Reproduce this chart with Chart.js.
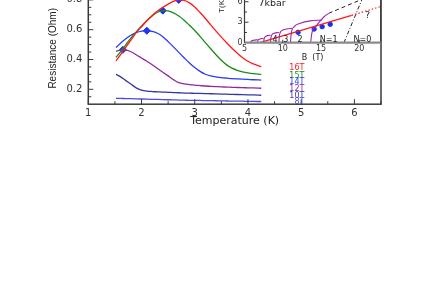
<!DOCTYPE html>
<html>
<head>
<meta charset="utf-8">
<script src="https://cdn.jsdelivr.net/npm/chart.js@4/dist/chart.umd.min.js"></script>
<style>
html,body{margin:0;padding:0;background:#fff;overflow:hidden}
#wrap{position:relative;width:421px;height:287px;overflow:hidden;background:#fff}
#main{position:absolute;left:0;top:-30px}
#inset{position:absolute;left:200px;top:-20px}
</style>
</head>
<body>
<div id="wrap">
<canvas id="main" width="421" height="170"></canvas>
<canvas id="inset" width="200" height="90"></canvas>
</div>
<script>
// temperature grid (K) shared by all R(T) curves
const temps = [1.52,1.6,1.7,1.8,1.9,2.0,2.1,2.2,2.3,2.4,2.5,2.6,2.7,2.8,2.9,3.0,3.1,3.2,3.3,3.4,3.5,3.6,3.7,3.8,3.9,4.0,4.1,4.25];
// resistance (Ohm) for each field
const r16 = [0.39,0.43,0.48,0.53,0.58,0.62,0.66,0.695,0.725,0.75,0.772,0.79,0.80,0.797,0.78,0.752,0.715,0.675,0.632,0.59,0.55,0.512,0.475,0.442,0.412,0.388,0.37,0.352];
const r15 = [0.415,0.45,0.497,0.543,0.585,0.625,0.66,0.692,0.717,0.728,0.726,0.713,0.692,0.664,0.63,0.595,0.555,0.513,0.472,0.432,0.395,0.364,0.342,0.327,0.317,0.31,0.305,0.30];
const r14 = [0.48,0.508,0.538,0.563,0.58,0.59,0.593,0.589,0.576,0.553,0.52,0.485,0.448,0.412,0.377,0.346,0.32,0.301,0.29,0.283,0.278,0.275,0.272,0.27,0.268,0.266,0.264,0.262];
const r12 = [0.455,0.463,0.463,0.452,0.432,0.41,0.388,0.365,0.34,0.315,0.29,0.265,0.245,0.237,0.232,0.228,0.225,0.222,0.22,0.218,0.216,0.215,0.213,0.212,0.211,0.21,0.209,0.207];
const r10 = [0.30,0.285,0.26,0.235,0.21,0.195,0.188,0.185,0.183,0.181,0.18,0.178,0.177,0.175,0.174,0.173,0.172,0.171,0.17,0.169,0.168,0.167,0.166,0.165,0.164,0.163,0.162,0.16];
const r8  = [0.14,0.139,0.138,0.137,0.136,0.135,0.134,0.133,0.132,0.131,0.13,0.129,0.128,0.127,0.126,0.1255,0.125,0.124,0.1235,0.123,0.122,0.1215,0.121,0.1205,0.12,0.119,0.1185,0.118];
const fieldLabels = ['16T','15T','14T','12T','10T','8T'];
// maxima marked on the curves
const peakT = [1.65,2.1,2.4,2.7];
const peakR = [0.465,0.593,0.728,0.80];

// inset: T(K) vs B(T), 7 kbar
const arcs = [
  {b:[5.8,5.9,6.2,6.7], t:[0,0.25,0.35,0.45]},
  {b:[6.7,6.75,6.95,7.5], t:[0,0.3,0.5,0.65]},
  {b:[7.5,7.55,7.8,8.4], t:[0,0.5,0.95,1.1]},
  {b:[8.4,8.45,8.7,9.5], t:[0,0.7,1.3,1.5]},
  {b:[9.5,9.55,9.9,10.5,11.2], t:[0,1.0,1.8,2.0,2.1]},
  {b:[11.0,11.1,11.5,12.3,13.6,15.1], t:[0,1.3,2.35,2.85,3.2,3.3]},
  {b:[13.65,13.8,14.3,14.9,15.4,16.0], t:[0,1.4,2.35,3.2,3.8,4.3]}
];
const redLineB = [7.0,19.0];
const redLineT = [0,4.0];
const redDotB = [19.0,22.8];
const redDotT = [4.0,5.3];
const dashB = [16.0,21.7];
const dashT = [4.3,7.0];
const dashDotB = [18.0,20.6];
const dashDotT = [0,7.0];
const dotB = [12.0,14.1,15.15,16.2];
const dotT = [1.52,2.0,2.35,2.7];
const insetLabels = ['4','3','2','N=1','N=0'];
const insetLabelB = [9.0,10.4,12.25,16.0,20.4];

const colors = ['#ff1a1a','#1b8c1b','#2a3cf0','#8e2a9e','#3535a5','#4a4ae8'];
const series = [r16,r15,r14,r12,r10,r8];

Chart.defaults.font.family = '"DejaVu Sans", sans-serif';
Chart.defaults.color = '#222';

const pts = (xs, ys) => xs.map((v, i) => ({x: v, y: ys[i]}));

const mainDeco = {
  id: 'mainDeco',
  afterDraw(chart) {
    const {ctx, chartArea: a, scales: {x, y}} = chart;
    ctx.save();
    ctx.strokeStyle = '#3a3a3a';
    ctx.lineWidth = 1.5;
    ctx.strokeRect(a.left, a.top, a.right - a.left, a.bottom - a.top);
    ctx.lineWidth = 1;
    ctx.beginPath();
    for (let i = 2; i <= 13; i++) {
      const px = x.getPixelForValue(i * 0.5);
      const len = i % 2 === 0 ? 5 : 3;
      ctx.moveTo(px, a.bottom); ctx.lineTo(px, a.bottom - len);
    }
    for (let i = 3; i <= 16; i++) {
      const py = y.getPixelForValue(i * 0.05);
      const len = i % 4 === 0 ? 5 : 3;
      ctx.moveTo(a.left, py); ctx.lineTo(a.left + len, py);
    }
    ctx.stroke();
    // field labels
    const labR = [0.341,0.291,0.247,0.2,0.157,0.117];
    ctx.font = '8px "DejaVu Sans"';
    ctx.textAlign = 'right';
    ctx.textBaseline = 'middle';
    fieldLabels.forEach((s, i) => {
      ctx.fillStyle = colors[i];
      ctx.fillText(s, x.getPixelForValue(5.06), y.getPixelForValue(labR[i]));
    });
    ctx.restore();
  }
};

new Chart(document.getElementById('main'), {
  type: 'line',
  data: {
    datasets: series.map((s, i) => ({
      label: fieldLabels[i],
      data: pts(temps, s),
      borderColor: colors[i],
      borderWidth: 1.3,
      pointRadius: 0,
      cubicInterpolationMode: 'monotone',
      fill: false
    })).concat([{
      label: 'peaks',
      data: pts(peakT, peakR),
      showLine: false,
      pointStyle: 'rectRot',
      pointRadius: 3.5,
      pointBackgroundColor: '#1030ff',
      pointBorderColor: '#1030ff'
    }])
  },
  plugins: [mainDeco],
  options: {
    responsive: false,
    animation: false,
    layout: {padding: {left: 0, right: 40, top: 22.45, bottom: 11.8}},
    plugins: {legend: {display: false}, tooltip: {enabled: false}},
    scales: {
      x: {
        type: 'linear', min: 1, max: 6.5,
        grid: {display: false, drawTicks: false},
        border: {display: false},
        ticks: {stepSize: 1, includeBounds: false, padding: 3, font: {size: 10}, color: '#333'},
        title: {display: true, text: 'Temperature (K)', font: {size: 11}, color: '#222', padding: {top: 0, bottom: 0}},
        afterFit(s) { s.height = 24; }
      },
      y: {
        type: 'linear', min: 0.1, max: 0.85,
        grid: {display: false, drawTicks: false},
        border: {display: false},
        ticks: {stepSize: 0.2, includeBounds: false, padding: 6, font: {size: 10}, color: '#333'},
        title: {display: true, text: 'Resistance (Ohm)', font: {family: '"Liberation Sans Narrow", "Liberation Sans", sans-serif', size: 10}, color: '#222', padding: {top: 47, bottom: 0}},
        afterFit(s) { s.width = 88.3; }
      }
    }
  }
});

const insetDeco = {
  id: 'insetDeco',
  afterDraw(chart) {
    const {ctx, chartArea: a, scales: {x, y}} = chart;
    ctx.save();
    ctx.strokeStyle = '#3a3a3a';
    ctx.lineWidth = 1.2;
    ctx.beginPath();
    ctx.moveTo(a.left, a.top); ctx.lineTo(a.left, a.bottom);
    ctx.moveTo(a.right, a.top); ctx.lineTo(a.right, a.bottom);
    ctx.stroke();
    ctx.strokeStyle = '#8a8a8a';
    ctx.lineWidth = 2.2;
    ctx.beginPath();
    ctx.moveTo(a.left, a.bottom); ctx.lineTo(a.right, a.bottom);
    ctx.stroke();
    ctx.strokeStyle = '#3a3a3a';
    ctx.lineWidth = 1;
    ctx.beginPath();
    for (let v = 5; v <= 20; v += 5) {
      const px = x.getPixelForValue(v);
      ctx.moveTo(px, a.bottom); ctx.lineTo(px, a.bottom - 3);
    }
    for (let v = 1.5; v <= 6; v += 1.5) {
      const py = y.getPixelForValue(v);
      ctx.moveTo(a.left, py); ctx.lineTo(a.left + (v % 3 === 0 ? 4 : 2.5), py);
    }
    ctx.stroke();
    ctx.fillStyle = '#222';
    ctx.font = '8px "DejaVu Sans"';
    ctx.textAlign = 'center';
    ctx.textBaseline = 'middle';
    insetLabels.forEach((s, i) => ctx.fillText(s, x.getPixelForValue(insetLabelB[i]), y.getPixelForValue(0.4)));
    ctx.font = '9px "DejaVu Sans"';
    ctx.fillText('?', x.getPixelForValue(21.1), y.getPixelForValue(3.9));
    ctx.font = '9.5px "DejaVu Sans"';
    ctx.fillText('7kbar', x.getPixelForValue(8.6), y.getPixelForValue(5.67));
    ctx.translate(a.left - 22.5, y.getPixelForValue(5.5));
    ctx.rotate(-Math.PI / 2);
    ctx.font = '8px "Liberation Sans Narrow", "Liberation Sans", sans-serif';
    ctx.fillText('T(K)', 0, 0);
    ctx.restore();
  }
};

const purple = '#9a2aa8';
new Chart(document.getElementById('inset'), {
  type: 'line',
  data: {
    datasets: arcs.map(a => ({
      data: pts(a.b, a.t), borderColor: purple, borderWidth: 1.1, pointRadius: 0,
      cubicInterpolationMode: 'monotone'
    })).concat([
      {data: pts(redLineB, redLineT), borderColor: '#ff1a1a', borderWidth: 1.2, pointRadius: 0},
      {data: pts(redDotB, redDotT), borderColor: '#ff1a1a', borderWidth: 1.2, borderDash: [1.5, 2], pointRadius: 0},
      {data: pts(dashB, dashT), borderColor: '#222', borderWidth: 1, borderDash: [4, 3], pointRadius: 0},
      {data: pts(dashDotB, dashDotT), borderColor: '#222', borderWidth: 1, borderDash: [4, 2, 1, 2], pointRadius: 0},
      {data: pts(dotB, dotT), showLine: false, pointStyle: 'circle', pointRadius: 2.2, pointBackgroundColor: '#1030ff', pointBorderColor: '#1030ff'}
    ])
  },
  plugins: [insetDeco],
  options: {
    responsive: false,
    animation: false,
    layout: {padding: {left: 14.5, right: 19.3, top: 14.9, bottom: 7.3}},
    plugins: {legend: {display: false}, tooltip: {enabled: false}},
    scales: {
      x: {
        type: 'linear', min: 5, max: 22.8,
        grid: {display: false, drawTicks: false},
        border: {display: false},
        ticks: {stepSize: 5, includeBounds: false, padding: 1, font: {size: 8}, color: '#333'},
        title: {display: true, text: 'B  (T)', font: {size: 8}, color: '#222', padding: {top: 4.6, bottom: 0}},
        afterFit(s) { s.height = 20; }
      },
      y: {
        type: 'linear', min: 0, max: 7,
        grid: {display: false, drawTicks: false},
        border: {display: false},
        ticks: {stepSize: 3, includeBounds: false, padding: 2, font: {size: 8}, color: '#333'},
        afterFit(s) { s.width = 30; }
      }
    }
  }
});
</script>
</body>
</html>
